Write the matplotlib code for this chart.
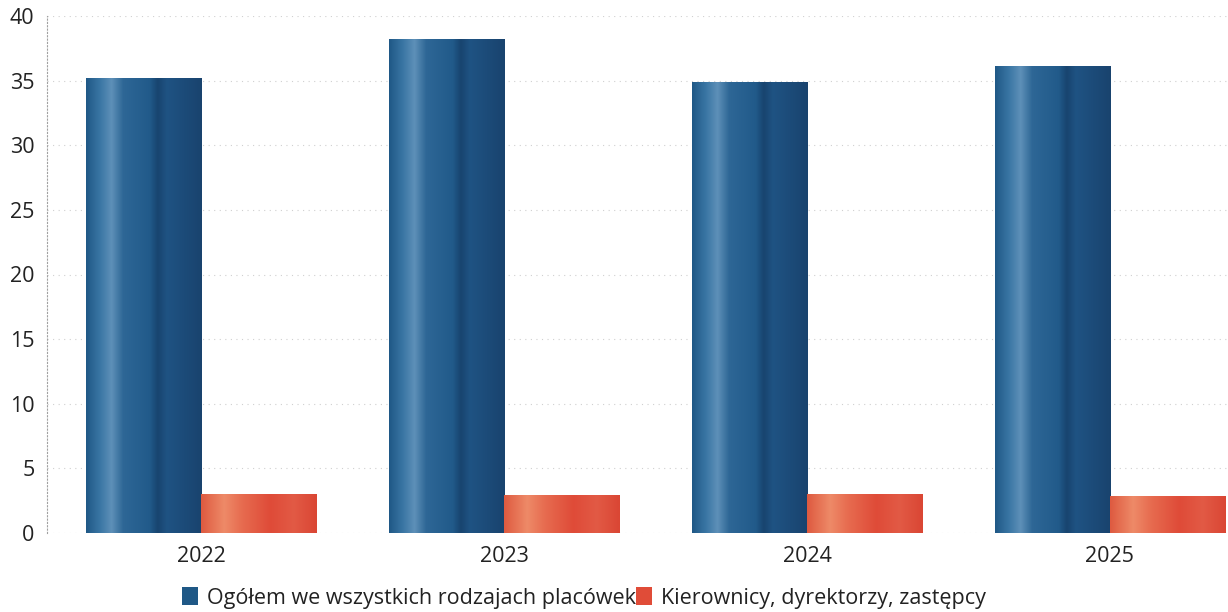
import matplotlib
matplotlib.use("Agg")
import matplotlib.pyplot as plt
import numpy as np
from matplotlib.colors import LinearSegmentedColormap
from matplotlib.patches import Patch

# values
years = ["2022", "2023", "2024", "2025"]
ogolem = [35.2, 38.2, 34.9, 36.1]
kierownicy = [3.05, 2.95, 3.0, 2.9]
series_labels = ["Ogółem we wszystkich rodzajach placówek", "Kierownicy, dyrektorzy, zastępcy"]
y_ticks = [0, 5, 10, 15, 20, 25, 30, 35, 40]

plt.rcParams["font.family"] = ["Open Sans", "DejaVu Sans"]

blue_cmap = LinearSegmentedColormap.from_list(
    "blue", [(0.0, "#1f5886"), (0.12, "#3a76a4"), (0.22, "#5e90b8"), (0.32, "#2e6796"),
             (0.55, "#215a8a"), (0.62, "#18446f"), (0.7, "#1f5383"), (1.0, "#19436e")])
red_cmap = LinearSegmentedColormap.from_list(
    "red", [(0.0, "#de5a40"), (0.2, "#ee8a68"), (0.35, "#e76c50"), (0.6, "#df4b38"),
            (0.8, "#e25a45"), (1.0, "#da4634")])

fig = plt.figure(figsize=(12.28, 6.12), dpi=100)
ax = fig.add_axes([47 / 1228, 79 / 612, 1181 / 1228, 517 / 612])

x = np.arange(len(years))
w = 0.38
bars1 = ax.bar(x - w / 2, ogolem, w, color="#1f5886", zorder=2)
bars2 = ax.bar(x + w / 2, kierownicy, w, color="#e04c38", zorder=2)

grad = np.linspace(0, 1, 256).reshape(1, -1)
for bars, cmap in [(bars1, blue_cmap), (bars2, red_cmap)]:
    for b in bars:
        x0, y0 = b.get_x(), b.get_y()
        im = ax.imshow(grad, cmap=cmap, aspect="auto", zorder=3,
                       extent=[x0, x0 + b.get_width(), y0, y0 + b.get_height()])
        im.set_clip_path(b)

ax.set_xlim(-0.51, 3.39)
ax.set_ylim(0, 40)
ax.set_yticks(y_ticks)
ax.set_xticks(x)
ax.set_xticklabels(years)
ax.tick_params(length=0, labelsize=15.5, colors="#222222", pad=9)
ax.tick_params(axis="y", pad=9)

ax.grid(axis="y", color="#d0d0d0", linestyle=(0, (1, 4)), linewidth=0.8, zorder=0)
for s in ["top", "right", "bottom"]:
    ax.spines[s].set_visible(False)
ax.spines["left"].set_color("#a0a0a0")
ax.spines["left"].set_linestyle((0, (1, 2)))
ax.spines["left"].set_linewidth(0.8)

handles = [Patch(facecolor="#1f5886"), Patch(facecolor="#e04c38")]
fig.legend(handles, series_labels, loc="center", bbox_to_anchor=(584 / 1228, 1 - 598 / 612),
           ncol=2, frameon=False, fontsize=15.5, handlelength=0.75, handleheight=0.9,
           handletextpad=0.4, columnspacing=0.0, labelcolor="#222222")

fig.savefig("out.png", dpi=100)
